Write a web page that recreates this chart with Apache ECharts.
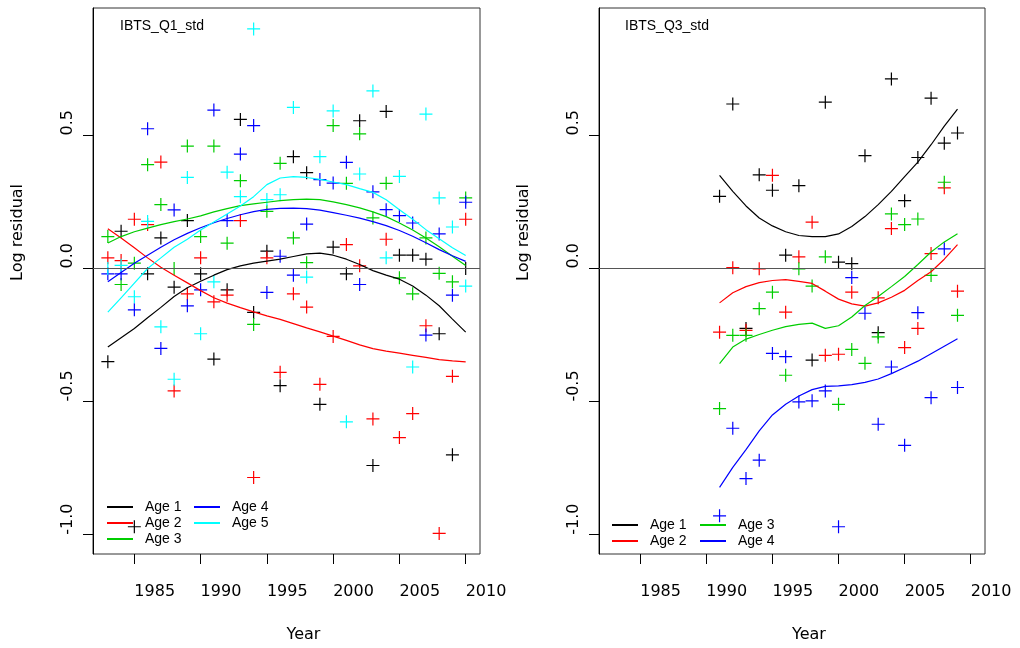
<!DOCTYPE html>
<html>
<head>
<meta charset="utf-8">
<script src="https://cdn.jsdelivr.net/npm/echarts@6/dist/echarts.min.js"></script>
<style>
  html, body { margin: 0; padding: 0; background: #fff; }
  #chart { width: 1020px; height: 648px; }
</style>
</head>
<body>
<div id="chart"></div>
<script>
// IBTS Q1 survey, ages 1-5, residuals + loess fits
var yearsQ1 = [1983, 1984, 1985, 1986, 1987, 1988, 1989, 1990, 1991, 1992, 1993, 1994, 1995, 1996,
  1997, 1998, 1999, 2000, 2001, 2002, 2003, 2004, 2005, 2006, 2007, 2008, 2009, 2010]
var q1Age1 = [-0.35, 0.14, -0.97, -0.02, 0.115, -0.07, 0.18, -0.02, -0.34, -0.08, 0.56, -0.165, 0.065, -0.44,
  0.42, 0.36, -0.51, 0.08, -0.02, 0.555, -0.74, 0.59, 0.05, 0.05, 0.035, -0.245, -0.70, 0.0]
var q1Age2 = [0.04, 0.03, 0.185, 0.165, 0.40, -0.46, -0.095, 0.04, -0.125, -0.10, 0.18, -0.785, 0.04, -0.39,
  -0.095, -0.145, -0.435, -0.255, 0.09, 0.01, -0.565, 0.11, -0.635, -0.545, -0.215, -0.995, -0.405, 0.185]
var q1Age3 = [0.12, -0.06, 0.02, 0.39, 0.24, 0.0, 0.46, 0.12, 0.46, 0.095, 0.33, -0.21, 0.215, 0.395,
  0.115, 0.022, null, 0.537, 0.32, 0.506, 0.19, 0.32, -0.035, -0.095, 0.115, -0.018, -0.05, 0.265]
var q1Age4 = [-0.02, -0.02, -0.155, 0.525, -0.30, 0.22, -0.14, -0.08, 0.595, 0.18, 0.43, 0.537, -0.09, 0.046,
  -0.025, 0.167, 0.334, 0.321, 0.399, -0.06, 0.288, 0.221, 0.199, 0.171, -0.25, 0.13, -0.10, 0.249]
var q1Age5 = [0.0, 0.012, -0.106, 0.177, -0.219, -0.416, 0.342, -0.245, -0.05, 0.362, 0.27, 0.90, 0.259, 0.277,
  0.605, -0.032, 0.42, 0.592, -0.576, 0.355, 0.667, 0.04, 0.346, -0.37, 0.58, 0.265, 0.156, -0.066]

var q1Fit1 = [-0.295, -0.26, -0.225, -0.185, -0.146, -0.105, -0.072, -0.048, -0.025, -0.004, 0.01, 0.02, 0.028, 0.035,
  0.045, 0.055, 0.058, 0.05, 0.035, 0.015, -0.008, -0.025, -0.04, -0.066, -0.1, -0.14, -0.19, -0.239]
var q1Fit2 = [0.149, 0.115, 0.078, 0.04, 0.005, -0.025, -0.054, -0.083, -0.11, -0.13, -0.147, -0.163, -0.178, -0.191,
  -0.207, -0.223, -0.238, -0.254, -0.27, -0.287, -0.301, -0.31, -0.318, -0.326, -0.334, -0.342, -0.347, -0.351]
var q1Fit3 = [0.096, 0.12, 0.138, 0.152, 0.165, 0.176, 0.186, 0.198, 0.213, 0.225, 0.236, 0.243, 0.249, 0.255,
  0.259, 0.261, 0.259, 0.25, 0.24, 0.228, 0.213, 0.195, 0.171, 0.145, 0.115, 0.082, 0.046, 0.011]
var q1Fit4 = [-0.05, -0.015, 0.02, 0.05, 0.08, 0.108, 0.132, 0.153, 0.172, 0.188, 0.202, 0.214, 0.222, 0.226,
  0.227, 0.225, 0.219, 0.21, 0.2, 0.189, 0.176, 0.161, 0.143, 0.121, 0.097, 0.071, 0.048, 0.027]
var q1Fit5 = [-0.164, -0.11, -0.055, 0.0, 0.04, 0.08, 0.11, 0.145, 0.175, 0.205, 0.235, 0.27, 0.315, 0.34,
  0.345, 0.342, 0.335, 0.325, 0.315, 0.3, 0.286, 0.258, 0.221, 0.185, 0.146, 0.112, 0.078, 0.049]

// IBTS Q3 survey, ages 1-4
var yearsQ3 = [1991, 1992, 1993, 1994, 1995, 1996, 1997, 1998, 1999, 2000, 2001, 2002, 2003, 2004, 2005,
  2006, 2007, 2008, 2009]
var q3Age1 = [0.271, 0.618, -0.225, 0.352, 0.294, 0.05, 0.311, -0.344, 0.625, 0.024, 0.018, 0.424, -0.241, 0.712,
  0.255, 0.417, 0.64, 0.471, 0.509]
var q3Age2 = [-0.239, 0.003, -0.232, -0.001, 0.35, -0.164, 0.044, 0.174, -0.326, -0.322, -0.089, null, -0.11, 0.15,
  -0.297, -0.225, 0.056, 0.303, -0.085]
var q3Age3 = [-0.526, -0.251, -0.251, -0.151, -0.089, -0.401, -0.001, -0.066, 0.044, -0.51, -0.304, -0.356, -0.257,
  0.205, 0.165, 0.186, -0.026, 0.324, -0.176]
var q3Age4 = [-0.929, -0.6, -0.789, -0.72, -0.319, -0.331, -0.501, -0.497, -0.46, -0.97, -0.034, -0.168, -0.585,
  -0.37, -0.664, -0.166, -0.485, 0.074, -0.447]

var q3Fit1 = [0.35, 0.29, 0.235, 0.19, 0.16, 0.138, 0.124, 0.12, 0.12, 0.13, 0.158, 0.195, 0.24, 0.29, 0.345,
  0.4, 0.465, 0.535, 0.599]
var q3Fit2 = [-0.129, -0.091, -0.068, -0.053, -0.045, -0.042, -0.048, -0.056, -0.085, -0.115, -0.133, -0.141,
  -0.129, -0.108, -0.082, -0.045, -0.012, 0.035, 0.09]
var q3Fit3 = [-0.357, -0.295, -0.265, -0.248, -0.232, -0.218, -0.21, -0.205, -0.225, -0.215, -0.182, -0.139,
  -0.105, -0.068, -0.03, 0.015, 0.062, 0.1, 0.131]
var q3Fit4 = [-0.822, -0.747, -0.68, -0.61, -0.55, -0.51, -0.479, -0.455, -0.443, -0.441, -0.436, -0.428,
  -0.415, -0.395, -0.372, -0.348, -0.32, -0.292, -0.264]

var ageNames = ['Age 1', 'Age 2', 'Age 3', 'Age 4', 'Age 5']
var ageColors = ['#000000', '#ff0000', '#00cd00', '#0000ff', '#00ffff']
var xTicks = [1985, 1990, 1995, 2000, 2005, 2010]
var yTicks = [-1.0, -0.5, 0.0, 0.5]

var plusSymbol = 'path://M5.9,0H7.1V13H5.9Z M0,5.9H13V7.1H0Z'
var textFont = 'DejaVu Sans'
var legendFont = 'Liberation Sans'

function pairs(years, vals) {
  var out = []
  for (var i = 0; i < years.length; i++) {
    if (vals[i] !== null) out.push([years[i], vals[i]])
  }
  return out
}

function makeXAxis(idx) {
  return {
    type: 'value', gridIndex: idx, min: 1981.88, max: 2011.08,
    name: 'Year', nameLocation: 'middle', nameGap: 81, nameMoveOverlap: false,
    nameTextStyle: { fontFamily: textFont, fontSize: 16, color: '#000', align: 'left', verticalAlign: 'middle' },
    splitLine: { show: false },
    axisLine: { show: false, onZero: false },
    axisTick: { show: true, customValues: xTicks, length: 10, lineStyle: { color: '#000', width: 1 } },
    axisLabel: {
      customValues: xTicks, margin: 38, align: 'left', verticalAlign: 'middle',
      fontFamily: textFont, fontSize: 16, color: '#000',
      formatter: function (v) { return String(v) }
    }
  }
}

function makeYAxis(idx) {
  return {
    type: 'value', gridIndex: idx, min: -1.0724, max: 0.9786,
    name: 'Log residual', nameLocation: 'middle', nameGap: 75, nameMoveOverlap: false,
    nameTextStyle: { fontFamily: textFont, fontSize: 16, color: '#000', align: 'left', verticalAlign: 'middle' },
    splitLine: { show: false },
    axisLine: { show: true, onZero: false, lineStyle: { color: '#000', width: 1 } },
    axisTick: { show: true, customValues: yTicks, length: 10, lineStyle: { color: '#000', width: 1 } },
    axisLabel: {
      customValues: yTicks, margin: 25, rotate: 90, align: 'left', verticalAlign: 'middle',
      fontFamily: textFont, fontSize: 16, color: '#000',
      formatter: function (v) { return v.toFixed(1) }
    }
  }
}

function makeLegend(names, left, top) {
  return {
    data: names, orient: 'vertical', left: left, top: top, padding: 0,
    icon: 'rect', itemWidth: 26, itemHeight: 2, itemGap: 0, selectedMode: false,
    textStyle: { fontFamily: legendFont, fontSize: 14, lineHeight: 16, color: '#000', padding: [0, 0, 0, 7] }
  }
}

var series = []
function addPanel(idx, years, obs, fits) {
  for (var a = 0; a < obs.length; a++) {
    series.push({
      name: ageNames[a], type: 'scatter', xAxisIndex: idx, yAxisIndex: idx,
      symbol: plusSymbol, symbolSize: 13, color: ageColors[a],
      itemStyle: { color: ageColors[a], opacity: 1 },
      emphasis: { disabled: true }, silent: true,
      data: pairs(years, obs[a])
    })
  }
  for (var b = 0; b < fits.length; b++) {
    var s = {
      name: ageNames[b], type: 'line', xAxisIndex: idx, yAxisIndex: idx,
      showSymbol: false, symbol: 'none', color: ageColors[b],
      lineStyle: { color: ageColors[b], width: 1.2 },
      emphasis: { disabled: true }, silent: true,
      data: pairs(years, fits[b])
    }
    if (b === 0) {
      // horizontal reference line at zero
      s.markLine = {
        silent: true, symbol: 'none', label: { show: false },
        lineStyle: { color: '#555', width: 1.2, type: 'solid' },
        emphasis: { disabled: true },
        data: [{ yAxis: 0 }]
      }
    }
    series.push(s)
  }
}

addPanel(0, yearsQ1, [q1Age1, q1Age2, q1Age3, q1Age4, q1Age5], [q1Fit1, q1Fit2, q1Fit3, q1Fit4, q1Fit5])
addPanel(1, yearsQ3, [q3Age1, q3Age2, q3Age3, q3Age4], [q3Fit1, q3Fit2, q3Fit3, q3Fit4])

var chart = echarts.init(document.getElementById('chart'), null, { renderer: 'canvas' })
chart.setOption({
  animation: false,
  backgroundColor: '#fff',
  title: [
    { text: 'IBTS_Q1_std', left: 120, top: 19, padding: 0,
      textStyle: { fontFamily: legendFont, fontSize: 14, fontWeight: 'normal', color: '#000' } },
    { text: 'IBTS_Q3_std', left: 625, top: 19, padding: 0,
      textStyle: { fontFamily: legendFont, fontSize: 14, fontWeight: 'normal', color: '#000' } }
  ],
  legend: [
    makeLegend(['Age 1', 'Age 2', 'Age 3'], 107, 499),
    makeLegend(['Age 4', 'Age 5'], 194, 499),
    makeLegend(['Age 1', 'Age 2'], 612, 517),
    makeLegend(['Age 3', 'Age 4'], 700, 517)
  ],
  grid: [
    { left: 93, top: 8, width: 387, height: 547, show: true, borderColor: '#333', borderWidth: 1, containLabel: false },
    { left: 599, top: 8, width: 386, height: 547, show: true, borderColor: '#333', borderWidth: 1, containLabel: false }
  ],
  xAxis: [makeXAxis(0), makeXAxis(1)],
  yAxis: [makeYAxis(0), makeYAxis(1)],
  series: series
})
</script>
</body>
</html>
